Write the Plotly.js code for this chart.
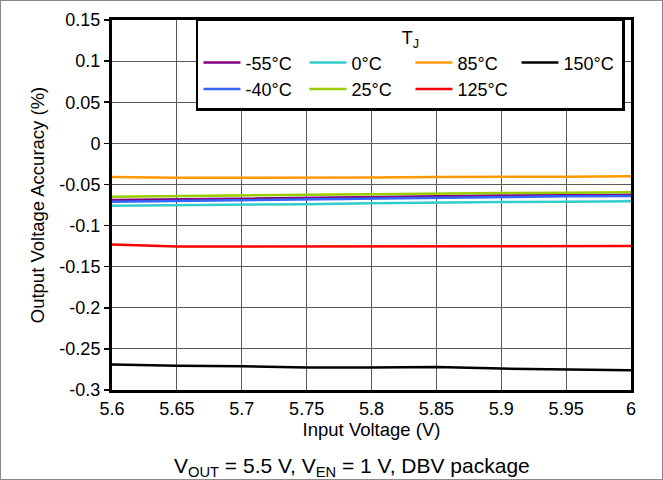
<!DOCTYPE html>
<html>
<head>
<meta charset="utf-8">
<script src="https://cdn.plot.ly/plotly-3.0.1.min.js"></script>
<style>
  html, body { margin: 0; padding: 0; background: #fff; }
  #wrap { position: relative; width: 663px; height: 480px; }
  #chart { width: 663px; height: 480px; }
  #frame { position: absolute; left: 0; top: 0; width: 663px; height: 480px; box-sizing: border-box; border: 1px solid #8a8a8a; pointer-events: none; }
</style>
</head>
<body>
<div id="wrap"><div id="chart"></div><div id="frame"></div></div>
<script>
// Input voltage (V)
const inputVoltage = [5.6, 5.65, 5.7, 5.75, 5.8, 5.85, 5.9, 5.95, 6.0];

// Output voltage accuracy (%) per junction temperature
const accM55 = [-0.069, -0.068, -0.067, -0.066, -0.065, -0.064, -0.0635, -0.063, -0.0625];
const accM40 = [-0.071, -0.070, -0.069, -0.068, -0.067, -0.066, -0.065, -0.0645, -0.064];
const acc0   = [-0.076, -0.0755, -0.075, -0.074, -0.073, -0.072, -0.0715, -0.071, -0.0705];
const acc25  = [-0.065, -0.064, -0.063, -0.0625, -0.062, -0.061, -0.0605, -0.060, -0.0595];
const acc85  = [-0.041, -0.042, -0.042, -0.042, -0.0415, -0.041, -0.041, -0.0405, -0.040];
const acc125 = [-0.123, -0.1255, -0.1255, -0.1255, -0.125, -0.125, -0.125, -0.125, -0.125];
const acc150 = [-0.269, -0.2705, -0.271, -0.2725, -0.2725, -0.272, -0.274, -0.275, -0.276];

const seriesNames = ["-55°C", "-40°C", "0°C", "25°C", "85°C", "125°C", "150°C"];
const seriesData = [accM55, accM40, acc0, acc25, acc85, acc125, acc150];
const seriesColors = ["#800080", "#3366FF", "#33CCCC", "#99CC00", "#FF9900", "#FF0000", "#000000"];
// legend order (row-wise: -55, 0, 85, 150 / -40, 25, 125)
const legendRanks = [1, 5, 2, 6, 3, 7, 4];

const xTickVals = [5.6, 5.65, 5.7, 5.75, 5.8, 5.85, 5.9, 5.95, 6];
const xTickText = ["5.6", "5.65", "5.7", "5.75", "5.8", "5.85", "5.9", "5.95", "6"];
const yTickVals = [0.15, 0.1, 0.05, 0, -0.05, -0.1, -0.15, -0.2, -0.25, -0.3];
const yTickText = ["0.15", "0.1", "0.05", "0", "-0.05", "-0.1", "-0.15", "-0.2", "-0.25", "-0.3"];

const FONT = "Liberation Sans, Arial, sans-serif";

const traces = seriesNames.map((n, i) => ({
  x: inputVoltage,
  y: seriesData[i],
  name: n,
  type: "scatter",
  mode: "lines",
  line: { color: seriesColors[i], width: 2.5 },
  legendrank: legendRanks[i]
}));

const layout = {
  width: 663,
  height: 480,
  margin: { l: 112, r: 32, t: 20, b: 90 },
  paper_bgcolor: "#fff",
  plot_bgcolor: "#fff",
  font: { family: FONT, color: "#000", size: 18 },
  showlegend: true,
  legend: {
    orientation: "h",
    x: 0.1618, y: 1.004, xanchor: "left", yanchor: "top",
    bgcolor: "#fff",
    bordercolor: "#000",
    borderwidth: 2.5,
    itemwidth: 37,
    entrywidth: 54,
    font: { family: FONT, size: 18, color: "#000" },
    title: { text: "T<sub>J</sub>", side: "top center", font: { family: FONT, size: 18, color: "#000" } },
    traceorder: "normal"
  },
  xaxis: {
    range: [5.6, 6],
    tickvals: xTickVals,
    ticktext: xTickText,
    ticks: "",
    showgrid: true,
    gridcolor: "#5a5a5a",
    gridwidth: 1.2,
    zeroline: false,
    showline: true,
    linecolor: "#000",
    linewidth: 3,
    mirror: true,
    tickfont: { family: FONT, size: 18, color: "#000" },
    title: { text: "Input Voltage (V)", font: { family: FONT, size: 18.5, color: "#000" }, standoff: 4 }
  },
  yaxis: {
    range: [-0.3, 0.15],
    tickvals: yTickVals,
    ticktext: yTickText,
    ticks: "outside",
    ticklen: 5,
    tickcolor: "#000",
    tickwidth: 1.5,
    showgrid: true,
    gridcolor: "#5a5a5a",
    gridwidth: 1.2,
    zeroline: false,
    showline: true,
    linecolor: "#000",
    linewidth: 3,
    mirror: true,
    tickfont: { family: FONT, size: 18, color: "#000" },
    title: { text: "Output Voltage Accuracy (%)", font: { family: FONT, size: 18.5, color: "#000" }, standoff: 10 }
  },
  annotations: [{
    text: "V<sub>OUT</sub> = 5.5 V, V<sub>EN</sub> = 1 V, DBV package",
    xref: "paper", yref: "paper",
    x: 0.462, y: -0.208,
    xanchor: "center", yanchor: "middle",
    showarrow: false,
    font: { family: FONT, size: 21, color: "#000" }
  }]
};

Plotly.newPlot("chart", traces, layout, { displayModeBar: false, staticPlot: true });
</script>
</body>
</html>
